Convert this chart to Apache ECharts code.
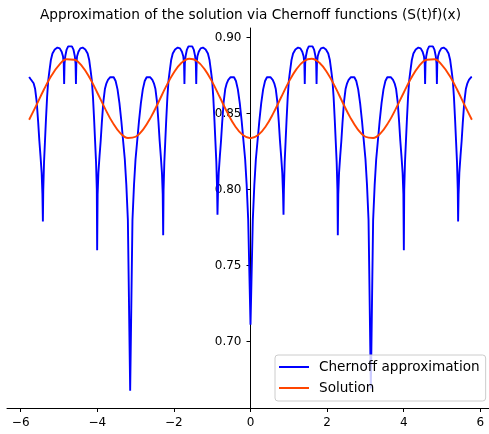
<!DOCTYPE html>
<html>
<head>
<meta charset="utf-8">
<script src="https://cdn.jsdelivr.net/npm/echarts@6/dist/echarts.min.js"></script>
<style>
  html, body { margin: 0; padding: 0; background: #fff; }
  #chart { width: 489px; height: 434px; }
</style>
</head>
<body>
<div id="chart"></div>
<script>
// Chernoff approximation (S(t)f)(x), sampled along x
const chernoffPoints = [
  [-5.780,0.8742],[-5.763,0.8740],[-5.743,0.8728],[-5.728,0.8730],[-5.703,0.8722],[-5.663,0.8700],[-5.623,0.8662],[-5.583,0.858],[-5.543,0.844],[-5.513,0.832],[-5.483,0.822],[-5.453,0.811],[-5.433,0.797],
  [-5.421,0.779],
  [-5.411,0.800],[-5.391,0.818],[-5.366,0.832],[-5.341,0.846],[-5.311,0.861],[-5.281,0.872],[-5.251,0.878],[-5.211,0.8855],[-5.171,0.8896],[-5.111,0.8922],[-5.041,0.8935],[-4.981,0.8930],[-4.931,0.8908],[-4.896,0.8878],[-4.876,0.8830],[-4.866,0.8695],[-4.856,0.8830],[-4.836,0.8880],[-4.801,0.8922],[-4.761,0.8943],[-4.712,0.8950],[-4.663,0.8943],[-4.623,0.8922],[-4.588,0.8880],[-4.568,0.8830],[-4.558,0.8695],[-4.548,0.8830],[-4.528,0.8878],[-4.493,0.8908],[-4.443,0.8930],[-4.383,0.8935],[-4.313,0.8922],[-4.253,0.8896],[-4.213,0.8855],[-4.173,0.878],[-4.143,0.872],[-4.113,0.861],[-4.083,0.846],[-4.058,0.832],[-4.033,0.818],[-4.013,0.800],
  [-4.004,0.760],
  [-3.992,0.797],[-3.972,0.811],[-3.942,0.822],[-3.912,0.832],[-3.882,0.844],[-3.842,0.858],[-3.802,0.8662],[-3.762,0.8700],[-3.722,0.8722],[-3.697,0.8730],[-3.682,0.8728],[-3.662,0.8740],[-3.622,0.8747],[-3.572,0.8740],[-3.522,0.8715],[-3.472,0.866],[-3.422,0.857],[-3.372,0.845],[-3.322,0.831],[-3.282,0.820],[-3.242,0.803],[-3.202,0.780],[-3.182,0.743],[-3.162,0.705],
  [-3.142,0.6676],
  [-3.122,0.705],[-3.102,0.743],[-3.082,0.780],[-3.042,0.803],[-3.002,0.820],[-2.962,0.831],[-2.912,0.845],[-2.862,0.857],[-2.812,0.866],[-2.762,0.8715],[-2.712,0.8740],[-2.662,0.8747],[-2.622,0.8740],[-2.602,0.8728],[-2.587,0.8730],[-2.562,0.8722],[-2.522,0.8700],[-2.482,0.8662],[-2.442,0.858],[-2.402,0.844],[-2.372,0.832],[-2.342,0.822],[-2.312,0.811],[-2.292,0.797],
  [-2.280,0.770],
  [-2.270,0.800],[-2.250,0.818],[-2.225,0.832],[-2.200,0.846],[-2.170,0.861],[-2.140,0.872],[-2.110,0.878],[-2.070,0.8855],[-2.030,0.8896],[-1.970,0.8922],[-1.900,0.8935],[-1.840,0.8930],[-1.790,0.8908],[-1.755,0.8878],[-1.735,0.8830],[-1.725,0.8695],[-1.715,0.8830],[-1.695,0.8880],[-1.660,0.8922],[-1.620,0.8943],[-1.571,0.8950],[-1.522,0.8943],[-1.482,0.8922],[-1.447,0.8880],[-1.427,0.8830],[-1.417,0.8695],[-1.407,0.8830],[-1.387,0.8878],[-1.352,0.8908],[-1.302,0.8930],[-1.242,0.8935],[-1.172,0.8922],[-1.112,0.8896],[-1.072,0.8855],[-1.032,0.878],[-1.002,0.872],[-0.972,0.861],[-0.942,0.846],[-0.917,0.832],[-0.892,0.818],[-0.872,0.800],
  [-0.862,0.7834],
  [-0.850,0.797],[-0.830,0.811],[-0.800,0.822],[-0.770,0.832],[-0.740,0.844],[-0.700,0.858],[-0.660,0.8662],[-0.620,0.8700],[-0.580,0.8722],[-0.555,0.8730],[-0.540,0.8728],[-0.520,0.8740],[-0.480,0.8747],[-0.430,0.8740],[-0.380,0.8715],[-0.330,0.866],[-0.280,0.857],[-0.230,0.845],[-0.180,0.831],[-0.140,0.820],[-0.100,0.803],[-0.060,0.780],[-0.040,0.757],[-0.020,0.734],
  [0.000,0.711],
  [0.020,0.734],[0.040,0.757],[0.060,0.780],[0.100,0.803],[0.140,0.820],[0.180,0.831],[0.230,0.845],[0.280,0.857],[0.330,0.866],[0.380,0.8715],[0.430,0.8740],[0.480,0.8747],[0.520,0.8740],[0.540,0.8728],[0.555,0.8730],[0.580,0.8722],[0.620,0.8700],[0.660,0.8662],[0.700,0.858],[0.740,0.844],[0.770,0.832],[0.800,0.822],[0.830,0.811],[0.850,0.797],
  [0.862,0.7834],
  [0.872,0.800],[0.892,0.818],[0.917,0.832],[0.942,0.846],[0.972,0.861],[1.002,0.872],[1.032,0.878],[1.072,0.8855],[1.112,0.8896],[1.172,0.8922],[1.242,0.8935],[1.302,0.8930],[1.352,0.8908],[1.387,0.8878],[1.407,0.8830],[1.417,0.8695],[1.427,0.8830],[1.447,0.8880],[1.482,0.8922],[1.522,0.8943],[1.571,0.8950],[1.620,0.8943],[1.660,0.8922],[1.695,0.8880],[1.715,0.8830],[1.725,0.8695],[1.735,0.8830],[1.755,0.8878],[1.790,0.8908],[1.840,0.8930],[1.900,0.8935],[1.970,0.8922],[2.030,0.8896],[2.070,0.8855],[2.110,0.878],[2.140,0.872],[2.170,0.861],[2.200,0.846],[2.225,0.832],[2.250,0.818],[2.270,0.800],
  [2.280,0.770],
  [2.292,0.797],[2.312,0.811],[2.342,0.822],[2.372,0.832],[2.402,0.844],[2.442,0.858],[2.482,0.8662],[2.522,0.8700],[2.562,0.8722],[2.587,0.8730],[2.602,0.8728],[2.622,0.8740],[2.662,0.8747],[2.712,0.8740],[2.762,0.8715],[2.812,0.866],[2.862,0.857],[2.912,0.845],[2.962,0.831],[3.002,0.820],[3.042,0.803],[3.082,0.780],[3.102,0.744],[3.122,0.706],
  [3.142,0.669],
  [3.162,0.706],[3.182,0.744],[3.202,0.780],[3.242,0.803],[3.282,0.820],[3.322,0.831],[3.372,0.845],[3.422,0.857],[3.472,0.866],[3.522,0.8715],[3.572,0.8740],[3.622,0.8747],[3.662,0.8740],[3.682,0.8728],[3.697,0.8730],[3.722,0.8722],[3.762,0.8700],[3.802,0.8662],[3.842,0.858],[3.882,0.844],[3.912,0.832],[3.942,0.822],[3.972,0.811],[3.992,0.797],
  [4.004,0.760],
  [4.014,0.800],[4.034,0.818],[4.059,0.832],[4.084,0.846],[4.114,0.861],[4.144,0.872],[4.174,0.878],[4.214,0.8855],[4.254,0.8896],[4.314,0.8922],[4.384,0.8935],[4.444,0.8930],[4.494,0.8908],[4.529,0.8878],[4.549,0.8830],[4.559,0.8695],[4.569,0.8830],[4.589,0.8880],[4.624,0.8922],[4.664,0.8943],[4.713,0.8950],[4.762,0.8943],[4.802,0.8922],[4.837,0.8880],[4.857,0.8830],[4.867,0.8695],[4.877,0.8830],[4.897,0.8878],[4.932,0.8908],[4.982,0.8930],[5.042,0.8935],[5.112,0.8922],[5.172,0.8896],[5.212,0.8855],[5.252,0.878],[5.282,0.872],[5.312,0.861],[5.342,0.846],[5.367,0.832],[5.392,0.818],[5.412,0.800],
  [5.421,0.779],
  [5.433,0.797],[5.453,0.811],[5.483,0.822],[5.513,0.832],[5.543,0.844],[5.583,0.858],[5.623,0.8662],[5.663,0.8700],[5.703,0.8722],[5.728,0.8730],[5.743,0.8728],[5.763,0.8740],[5.780,0.8742]
];

// Exact solution, sampled along x
const solutionPoints = [
  [-5.78,0.8460],[-5.6,0.8551],[-5.4,0.8656],[-5.2,0.8749],[-5.0,0.8820],[-4.8,0.8858],[-4.6,0.8855],[-4.4,0.8813],[-4.2,0.8736],[-4.0,0.8638],
  [-3.8,0.8535],[-3.6,0.8441],[-3.4,0.8372],[-3.2,0.8340],[-3.0,0.8348],[-2.8,0.8397],[-2.6,0.8477],[-2.4,0.8577],[-2.2,0.8681],[-2.0,0.8771],
  [-1.8,0.8835],[-1.6,0.8862],[-1.4,0.8847],[-1.2,0.8793],[-1.0,0.8709],[-0.8,0.8608],[-0.6,0.8505],[-0.4,0.8417],[-0.2,0.8359],[0.0,0.8338],
  [0.2,0.8359],[0.4,0.8417],[0.6,0.8505],[0.8,0.8608],[1.0,0.8709],[1.2,0.8793],[1.4,0.8847],[1.6,0.8862],[1.8,0.8835],[2.0,0.8771],
  [2.2,0.8681],[2.4,0.8577],[2.6,0.8477],[2.8,0.8397],[3.0,0.8348],[3.2,0.8340],[3.4,0.8372],[3.6,0.8441],[3.8,0.8535],[4.0,0.8638],
  [4.2,0.8736],[4.4,0.8813],[4.6,0.8855],[4.8,0.8858],[5.0,0.8820],[5.2,0.8749],[5.4,0.8656],[5.6,0.8551],[5.78,0.8460]
];

const xTicks = [-6, -4, -2, 0, 2, 4, 6];
const yTicks = [0.70, 0.75, 0.80, 0.85, 0.90];
const seriesNames = ['Chernoff approximation', 'Solution'];
const titleText = 'Approximation of the solution via Chernoff functions (S(t)f)(x)';

const FONT = 'DejaVu Sans';
const GRID_LEFT = 7;
const GRID_RIGHT = -5;
const X_MIN = -6.358;
const X_MAX = 6.358;
const CHART_W = 489;

// the vertical spine sits at x = 0, so shift the y axis inward from the grid's left edge
const gridWidth = CHART_W - GRID_LEFT - GRID_RIGHT;
const yAxisShift = (0 - X_MIN) / (X_MAX - X_MIN) * gridWidth;

const chart = echarts.init(document.getElementById('chart'), null, { renderer: 'canvas' });

chart.setOption({
  animation: false,
  backgroundColor: '#ffffff',
  title: {
    text: titleText,
    left: 40,
    top: 8,
    padding: 0,
    textStyle: { fontFamily: FONT, fontSize: 13.7, fontWeight: 'normal', color: '#000' }
  },
  grid: { left: GRID_LEFT, right: GRID_RIGHT, top: 28, bottom: 26, containLabel: false, outerBoundsMode: 'none' },
  xAxis: {
    type: 'value',
    min: X_MIN,
    max: X_MAX,
    axisLine: { onZero: false, lineStyle: { color: '#000', width: 1 } },
    axisTick: { show: true, customValues: xTicks, length: 4, lineStyle: { color: '#000' } },
    axisLabel: {
      customValues: xTicks,
      formatter: v => String(v).replace('-', '\u2212'),
      margin: 9,
      fontFamily: FONT,
      fontSize: 12,
      color: '#000'
    },
    splitLine: { show: false }
  },
  yAxis: {
    type: 'value',
    min: 0.6562,
    max: 0.9064,
    position: 'left',
    offset: -yAxisShift,
    axisLine: { show: true, onZero: false, lineStyle: { color: '#000', width: 1 } },
    axisTick: { show: true, customValues: yTicks, length: 4, lineStyle: { color: '#000' } },
    axisLabel: {
      customValues: yTicks,
      formatter: v => v.toFixed(2),
      margin: 9,
      fontFamily: FONT,
      fontSize: 12,
      color: '#000'
    },
    splitLine: { show: false }
  },
  legend: {
    orient: 'vertical',
    left: 275,
    top: 355,
    padding: [4, 6, 5, 4],
    itemWidth: 30,
    itemHeight: 2,
    itemGap: 5,
    icon: 'rect',
    backgroundColor: 'rgba(255,255,255,0.8)',
    borderColor: '#cccccc',
    borderWidth: 1,
    borderRadius: 3,
    data: seriesNames,
    textStyle: { fontFamily: FONT, fontSize: 13.6, lineHeight: 16, color: '#000', padding: [0, 0, 0, 5] }
  },
  series: [
    {
      name: seriesNames[0],
      type: 'line',
      data: chernoffPoints,
      symbol: 'none',
      showSymbol: false,
      lineStyle: { color: '#0000ff', width: 1.9 },
      itemStyle: { color: '#0000ff' }
    },
    {
      name: seriesNames[1],
      type: 'line',
      data: solutionPoints,
      smooth: 0.4,
      symbol: 'none',
      showSymbol: false,
      lineStyle: { color: '#ff4500', width: 1.9 },
      itemStyle: { color: '#ff4500' }
    }
  ]
});
</script>
</body>
</html>
